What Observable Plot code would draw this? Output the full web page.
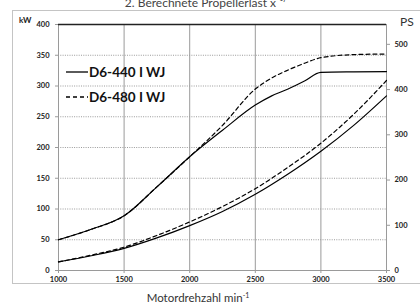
<!DOCTYPE html>
<html>
<head>
<meta charset="utf-8">
<script src="https://cdn.jsdelivr.net/npm/d3@7"></script>
<script src="https://cdn.jsdelivr.net/npm/@observablehq/plot@0.6"></script>
<style>
  html, body { margin: 0; padding: 0; background: #fff; }
  #wrap { position: relative; width: 420px; height: 303px; overflow: hidden; font-family: Lato, "Open Sans", sans-serif; }
  #wrap svg.plot { position: absolute; left: 0; top: 0; }
  .abs { position: absolute; white-space: nowrap; }
  #border { position: absolute; left: 12px; top: 10px; width: 420px; height: 274px; border: 1px solid #c4c4c4; box-sizing: border-box; }
  #title { left: 0; width: 410px; text-align: center; top: -3px; font-size: 12px; color: #444; line-height: 12px; }
  #kw { left: 19px; top: 15px; font-size: 8px; font-weight: bold; color: #222; }
  #ps { left: 400px; top: 14px; font-size: 12px; color: #333; }
  #xlab { left: 0; width: 396px; text-align: center; top: 289px; font-size: 11.5px; color: #333; line-height: 13px; }
  #xlab sup { font-size: 7px; vertical-align: 4px; }
  .leg { left: 66px; font-size: 13.5px; font-weight: bold; color: #111; display: flex; align-items: center; }
  .leg svg { margin-right: 1px; }
</style>
</head>
<body>
<div id="wrap">
  <div id="border"></div>
</div>
<script>
// ---- data (kW) ----
const rpm = [1000, 1250, 1500, 1750, 2000, 2250, 2500, 2625, 2750, 2875, 3000, 3250, 3500];
const fullD6440 = [50, 67, 89, 136, 185, 228, 269, 284, 295, 308, 322, 323, 323.5];
const fullD6480 = [50, 67, 89, 136, 185, 236, 295, 313, 326, 337, 346, 351, 352];
const propRpm = [1000, 1250, 1500, 1750, 2000, 2250, 2500, 2750, 3000, 3250, 3500];
const propD6440 = [14, 24, 36, 53, 73, 96, 124, 157, 194, 236, 284];
const propD6480 = [14, 25, 38, 57, 79, 104, 133, 168, 207, 254, 309];
const xTicks = [1000, 1500, 2000, 2500, 3000, 3500];
const kwTicks = [0, 50, 100, 150, 200, 250, 300, 350, 400];
const psTicks = [0, 100, 200, 300, 400, 500];
const kwPerPs = 0.7355;
const seriesNames = ["D6-440 I WJ", "D6-480 I WJ"];
const titleText = "2. Berechnete Propellerlast x \u00B9\u207E";

const toRows = (xs, ys, s) => xs.map((x, i) => ({rpm: x, kw: ys[i], s}));
const curves = [
  toRows(rpm, fullD6440, "a"),
  toRows(rpm, fullD6480, "b"),
  toRows(propRpm, propD6440, "a"),
  toRows(propRpm, propD6480, "b")
];

const marks = [
  Plot.gridY(kwTicks.filter(d => d > 0 && d < 400), {stroke: "#9a9a9a", strokeOpacity: 1, strokeDasharray: "1,1.3"}),
  Plot.gridX(xTicks.filter(d => d > 1000 && d < 3500), {stroke: "#9a9a9a", strokeOpacity: 1}),
  Plot.ruleY([0], {stroke: "#9a9a9a"}),
  Plot.ruleX([1000], {stroke: "#9a9a9a"}),
  Plot.ruleX([3500], {stroke: "#9a9a9a"}),
  Plot.ruleY([400], {stroke: "#222", strokeWidth: 1.3}),
  Plot.axisX(xTicks, {tickSize: 3, tickPadding: 3, label: null, stroke: "#9a9a9a", fill: "#222", tickFormat: d => String(d)}),
  Plot.axisY(kwTicks, {anchor: "left", tickSize: 3, tickPadding: 6, label: null, stroke: "#9a9a9a", fill: "#222", tickFormat: d => String(d)}),
  Plot.axisY(psTicks.map(p => p * kwPerPs), {anchor: "right", tickSize: 3, tickPadding: 5, label: null,
    tickFormat: d => String(Math.round(d / kwPerPs)), stroke: "#9a9a9a", fill: "#222"})
];
for (const c of curves) {
  marks.push(Plot.line(c, {x: "rpm", y: "kw", curve: "monotone-x", stroke: "#000", strokeWidth: 1.2,
    strokeDasharray: c[0].s === "b" ? "4,3" : null}));
}

const chart = Plot.plot({
  width: 420,
  height: 303,
  marginLeft: 58,
  marginRight: 34,
  marginTop: 24,
  marginBottom: 33,
  x: {domain: [1000, 3500]},
  y: {domain: [0, 400]},
  style: {fontFamily: "Lato, 'Open Sans', sans-serif", fontSize: "7.5px", fontWeight: "bold", background: "transparent"},
  marks
});
chart.classList.add("plot");
const wrap = document.getElementById("wrap");
wrap.appendChild(chart);

function addDiv(id, cls, html) {
  const d = document.createElement("div");
  if (id) d.id = id;
  d.className = "abs " + (cls || "");
  d.innerHTML = html;
  wrap.appendChild(d);
  return d;
}
addDiv("title", "", titleText);
addDiv("kw", "", "kW");
addDiv("ps", "", "PS");
addDiv("xlab", "", "Motordrehzahl min<sup>-1</sup>");
const l1 = addDiv(null, "leg", `<svg width="22" height="4"><line x1="0" y1="2" x2="22" y2="2" stroke="#000" stroke-width="1.3"/></svg>${seriesNames[0]}`);
l1.style.top = "64px";
const l2 = addDiv(null, "leg", `<svg width="22" height="4"><line x1="0" y1="2" x2="22" y2="2" stroke="#000" stroke-width="1.3" stroke-dasharray="4,3"/></svg>${seriesNames[1]}`);
l2.style.top = "89px";
</script>
</body>
</html>
